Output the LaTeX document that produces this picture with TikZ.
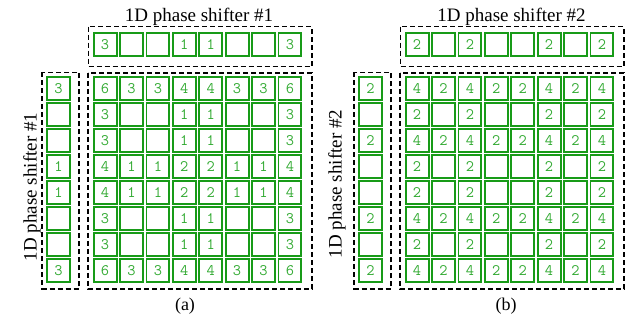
\documentclass[tikz,border=0pt]{standalone}
\usepackage{fontspec}
\setmainfont{Liberation Serif}
\definecolor{cellgreen}{RGB}{24,155,24}
\definecolor{digitgreen}{RGB}{50,170,50}
\tikzset{
  cell/.style={draw=cellgreen, line width=1.9pt, fill=white,
    minimum width=22.9pt, minimum height=22.6pt, inner sep=0pt, outer sep=0pt,
    font=\fontsize{16}{16}\selectfont\ttfamily, text=digitgreen},
  groupbox/.style={draw=black, line width=1.2pt, dash pattern=on 5pt off 3pt},
  paneltitle/.style={font=\fontsize{19}{22}\selectfont, inner sep=0pt},
  panelcaption/.style={font=\fontsize{18}{20}\selectfont, inner sep=0pt}
}
% #1 name prefix, #2 horizontal offset, #3 row-shifter values, #4 column-shifter values
\newcommand\phasepanel[4]{%
  \begin{scope}[xshift=#2]
    \draw[groupbox] (88.3,26.7) rectangle (312,66.3);
    \draw[groupbox] (88,73) rectangle (312,289);
    \draw[groupbox] (42,72.5) rectangle (79,289);
    \foreach \j in {0,...,7}{
      \pgfmathtruncatemacro\tv{{#3}[\j]}
      \node[cell] (#1-t\j) at ({105.1+26.4*\j},44.5) {\ifnum\tv>0 \tv\fi};
    }
    \foreach \i in {0,...,7}{
      \pgfmathtruncatemacro\lv{{#4}[\i]}
      \node[cell] (#1-l\i) at (58.5,{88.4+26*\i}) {\ifnum\lv>0 \lv\fi};
      \foreach \j in {0,...,7}{
        \pgfmathtruncatemacro\gv{{#3}[\j]+{#4}[\i]}
        \node[cell] (#1-g\i-\j) at ({105.1+26.4*\j},{88.4+26*\i}) {\ifnum\gv>0 \gv\fi};
      }
    }
  \end{scope}}
\begin{document}
\begin{tikzpicture}[x=1pt,y=-1pt]
  \useasboundingbox (0,0) rectangle (635,323);
  \phasepanel{a}{0pt}{3,0,0,1,1,0,0,3}{3,0,0,1,1,0,0,3}
  \phasepanel{b}{312pt}{2,0,2,0,0,2,0,2}{2,0,2,0,0,2,0,2}
  % titles of the shifter groups
  \node[paneltitle, anchor=base] (ta) at (199,21.7) {1D phase shifter \#1};
  \node[paneltitle, anchor=base] (tb) at (511.5,21.7) {1D phase shifter \#2};
  \node[paneltitle, anchor=base, rotate=90] (va) at (36.5,187) {1D phase shifter \#1};
  \node[paneltitle, anchor=base, rotate=90] (vb) at (341.5,184) {1D phase shifter \#2};
  % sub-figure captions
  \node[panelcaption] (ca) at (185,306) {(a)};
  \node[panelcaption] (cb) at (506,306) {(b)};
\end{tikzpicture}
\end{document}
